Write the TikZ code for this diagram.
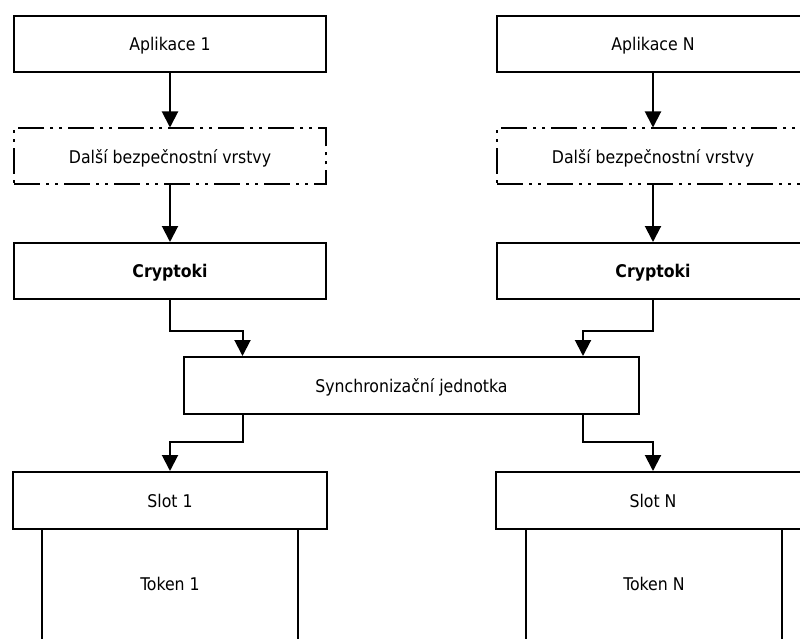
\documentclass[tikz,border=0pt]{standalone}
\usepackage{fontspec}
\setmainfont{DejaVu Sans Condensed}
\usetikzlibrary{arrows.meta}
\begin{document}
\begin{tikzpicture}[x=1pt,y=-1pt,
  labelfont/.style={font=\fontsize{17.5}{20}\selectfont, text depth=0pt},
  box/.style={draw, line width=2pt, rectangle, minimum width=312pt, minimum height=56pt,
    inner sep=0pt, labelfont},
  layerbox/.style={box, dash pattern=on 26pt off 6pt on 3pt off 6pt on 3pt off 6pt},
  opentoken/.style={rectangle, minimum width=256pt, minimum height=112pt, inner sep=0pt},
  link/.style={line width=2pt, -{Triangle[length=16pt,width=16pt]}}
]
\useasboundingbox (0,0) rectangle (800,639);

% applications
\node[box] (app1) at (170,44) {Aplikace 1};
\node[box] (appN) at (653,44) {Aplikace N};

% optional security layers
\node[layerbox] (sec1) at (170,156.5) {Další bezpečnostní vrstvy};
\node[layerbox] (secN) at (653,156.5) {Další bezpečnostní vrstvy};

% PKCS#11 libraries
\node[box, font=\fontsize{17.5}{20}\selectfont\bfseries] (cry1) at (170,271) {Cryptoki};
\node[box, font=\fontsize{17.5}{20}\selectfont\bfseries] (cryN) at (653,271) {Cryptoki};

% synchronisation unit
\node[box, minimum width=455pt, minimum height=57pt] (sync) at (411.5,385.5) {Synchronizační jednotka};

% slots
\node[box, minimum width=314pt, minimum height=57pt] (slot1) at (170,500.5) {Slot 1};
\node[box, minimum width=314pt, minimum height=57pt] (slotN) at (653,500.5) {Slot N};

% tokens (open at the bottom)
\node[opentoken] (tok1) at (170,585) {};
\node[opentoken] (tokN) at (654,585) {};
\node[labelfont] (tok1label) at (170,584) {Token 1};
\node[labelfont] (tokNlabel) at (654,584) {Token N};
\draw[line width=2pt] (tok1.north west) -- (tok1.south west);
\draw[line width=2pt] (tok1.north east) -- (tok1.south east);
\draw[line width=2pt] (tokN.north west) -- (tokN.south west);
\draw[line width=2pt] (tokN.north east) -- (tokN.south east);

% vertical flow in each column
\draw[link] (app1) -- (sec1);
\draw[link] (appN) -- (secN);
\draw[link] (sec1) -- (cry1);
\draw[link] (secN) -- (cryN);

% into and out of the synchronisation unit
\coordinate (syncL) at (242.5,0);
\coordinate (syncR) at (583,0);
\draw[link] (cry1.south) |- (syncL |- 0,331) -- (syncL |- sync.north);
\draw[link] (cryN.south) |- (syncR |- 0,331) -- (syncR |- sync.north);
\draw[link] (syncL |- sync.south) |- (slot1.north |- 0,442) -- (slot1.north);
\draw[link] (syncR |- sync.south) |- (slotN.north |- 0,442) -- (slotN.north);
\end{tikzpicture}
\end{document}
